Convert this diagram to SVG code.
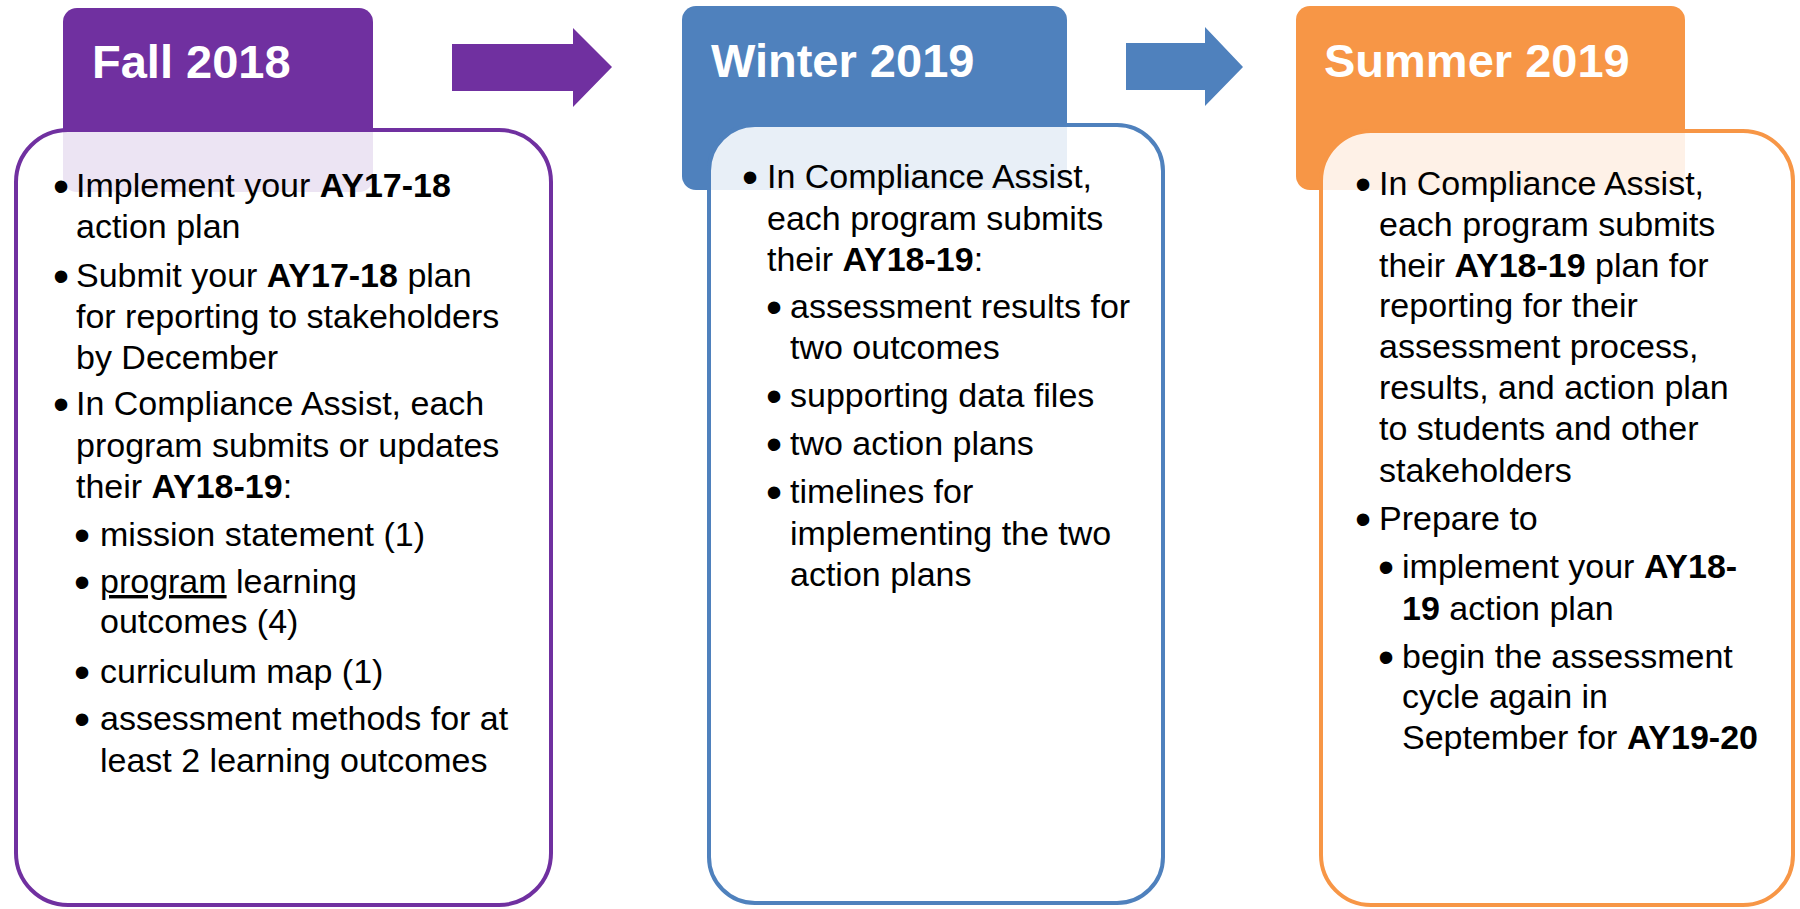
<svg xmlns="http://www.w3.org/2000/svg" width="1800" height="909" viewBox="0 0 1800 909">
<style>
.hdr{font-family:"Liberation Sans",Arial,sans-serif;font-weight:bold;font-size:47px;fill:#ffffff}
.t{font-family:"Liberation Sans",Arial,sans-serif;font-size:34px;fill:#000000}
.bl{font-size:46px}
.b{font-weight:bold}
.u{text-decoration:underline}
.card{fill:#ffffff;fill-opacity:0.87;stroke-width:4}
</style>
<rect x="0" y="0" width="1800" height="909" fill="#ffffff"/>
<g id="connectors">
  <polygon points="452,44 573,44 573,28 612,67 573,107 573,91 452,91" fill="#7030A0"/>
  <polygon points="1126,43 1205,43 1205,27 1243,67 1205,106 1205,90 1126,90" fill="#4F81BD"/>
</g>
<g id="fall">
  <rect x="63" y="8" width="310" height="184" rx="14" fill="#7030A0"/>
  <text class="hdr" x="92" y="78">Fall 2018</text>
  <rect class="card" x="16" y="130" width="535" height="775" rx="52" stroke="#7030A0"/>
  <g class="t">
    <text class="bl" x="53" y="202">•</text>
    <text x="76" y="197">Implement your <tspan class="b">AY17-18</tspan></text>
    <text x="76" y="238">action plan</text>
    <text class="bl" x="53" y="292">•</text>
    <text x="76" y="287">Submit your <tspan class="b">AY17-18</tspan> plan</text>
    <text x="76" y="328">for reporting to stakeholders</text>
    <text x="76" y="369">by December</text>
    <text class="bl" x="53" y="420">•</text>
    <text x="76" y="415">In Compliance Assist, each</text>
    <text x="76" y="457">program submits or updates</text>
    <text x="76" y="498">their <tspan class="b">AY18-19</tspan>:</text>
    <text class="bl" x="74" y="551">•</text>
    <text x="100" y="546">mission statement (1)</text>
    <text class="bl" x="74" y="598">•</text>
    <text x="100" y="593"><tspan class="u">program</tspan> learning</text>
    <text x="100" y="633">outcomes (4)</text>
    <text class="bl" x="74" y="688">•</text>
    <text x="100" y="683">curriculum map (1)</text>
    <text class="bl" x="74" y="735">•</text>
    <text x="100" y="730">assessment methods for at</text>
    <text x="100" y="772">least 2 learning outcomes</text>
  </g>
</g>
<g id="winter">
  <rect x="682" y="6" width="385" height="184" rx="14" fill="#4F81BD"/>
  <text class="hdr" x="711" y="77">Winter 2019</text>
  <rect class="card" x="709" y="125" width="454" height="778" rx="46" stroke="#4F81BD"/>
  <g class="t">
    <text class="bl" x="742" y="193">•</text>
    <text x="767" y="188">In Compliance Assist,</text>
    <text x="767" y="230">each program submits</text>
    <text x="767" y="271">their <tspan class="b">AY18-19</tspan>:</text>
    <text class="bl" x="766" y="323">•</text>
    <text x="790" y="318">assessment results for</text>
    <text x="790" y="359">two outcomes</text>
    <text class="bl" x="766" y="412">•</text>
    <text x="790" y="407">supporting data files</text>
    <text class="bl" x="766" y="460">•</text>
    <text x="790" y="455">two action plans</text>
    <text class="bl" x="766" y="508">•</text>
    <text x="790" y="503">timelines for</text>
    <text x="790" y="545">implementing the two</text>
    <text x="790" y="586">action plans</text>
  </g>
</g>
<g id="summer">
  <rect x="1296" y="6" width="389" height="184" rx="14" fill="#F79646"/>
  <text class="hdr" x="1324" y="77">Summer 2019</text>
  <rect class="card" x="1321" y="131" width="472" height="774" rx="50" stroke="#F79646"/>
  <g class="t">
    <text class="bl" x="1355" y="200">•</text>
    <text x="1379" y="195">In Compliance Assist,</text>
    <text x="1379" y="236">each program submits</text>
    <text x="1379" y="277">their <tspan class="b">AY18-19</tspan> plan for</text>
    <text x="1379" y="317">reporting for their</text>
    <text x="1379" y="358">assessment process,</text>
    <text x="1379" y="399">results, and action plan</text>
    <text x="1379" y="440">to students and other</text>
    <text x="1379" y="482">stakeholders</text>
    <text class="bl" x="1355" y="535">•</text>
    <text x="1379" y="530">Prepare to</text>
    <text class="bl" x="1378" y="583">•</text>
    <text x="1402" y="578">implement your <tspan class="b">AY18-</tspan></text>
    <text x="1402" y="620"><tspan class="b">19</tspan> action plan</text>
    <text class="bl" x="1378" y="673">•</text>
    <text x="1402" y="668">begin the assessment</text>
    <text x="1402" y="708">cycle again in</text>
    <text x="1402" y="749">September for <tspan class="b">AY19-20</tspan></text>
  </g>
</g>
</svg>
